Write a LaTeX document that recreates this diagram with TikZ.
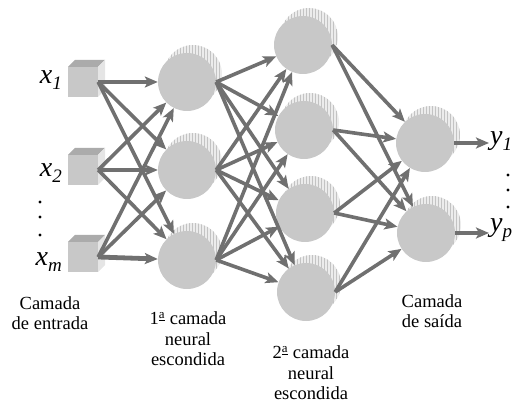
\documentclass[tikz,border=0pt]{standalone}
\usepackage{fontspec}
\setmainfont{LiberationSerif}[Extension=.ttf,UprightFont=*-Regular,ItalicFont=*-Italic,BoldFont=*-Bold,BoldItalicFont=*-BoldItalic]
\newfontfamily\tms{LiberationSerif}[Extension=.ttf,UprightFont=*-Regular,ItalicFont=*-Italic,BoldFont=*-Bold,BoldItalicFont=*-BoldItalic]
\usetikzlibrary{arrows.meta,patterns,calc}
\definecolor{face}{RGB}{200,200,200}
\definecolor{rib}{RGB}{236,236,236}
\definecolor{ribline}{RGB}{195,195,195}
\definecolor{arr}{RGB}{112,112,112}
\tikzset{
  neuron/.style={circle,minimum size=58pt,inner sep=0pt,fill=face},
  ribbon/.style={circle,minimum size=58pt,inner sep=0pt,fill=rib,postaction={pattern=vertical lines,pattern color=ribline}},
  cubeface/.style={minimum size=30pt,inner sep=0pt,fill=face},
  con/.style={draw=arr,line width=3.6pt,-{Stealth[length=13pt,width=11pt,inset=3pt]}},
  conthick/.style={con,line width=4.8pt},
  lbl/.style={font=\tms\fontsize{18.5}{20.5}\selectfont,align=center},
  var/.style={font=\tms\fontsize{28}{28}\selectfont\itshape,inner sep=0pt},
  dot/.style={circle,fill=black,inner sep=0pt,minimum size=3.2pt}
}
\newcommand{\subsc}[1]{\raisebox{-6pt}{\tms\fontsize{19}{19}\selectfont\itshape #1}}
\begin{document}
\begin{tikzpicture}[x=1pt,y=-1pt]
\useasboundingbox (0,0) rectangle (522,403);
% input cubes
\foreach \n/\y in {1/82,2/170,3/257}{
  \fill[black!33] (68,\y-15) -- (75,\y-22) -- (105,\y-22) -- (98,\y-15) -- cycle;
  \fill[black!10] (98,\y-15) -- (105,\y-22) -- (105,\y+8) -- (98,\y+15) -- cycle;
  \node[cubeface] (i\n) at (83,\y) {};
}
% ribbons and neurons
\foreach \name/\x/\y in {h1/187/82,h2/187/170,h3/187/260,g1/303/45,g2/304/130,g3/305/213,g4/306/292,o1/425/143,o2/426/233}{
  \node[ribbon] at (\x+6,\y-8) {};
  \node[neuron] (\name) at (\x,\y) {};
}
% labels
\node[var,anchor=east] (lx1) at (62,80) {x\subsc{1}};
\node[var,anchor=east] (lx2) at (62,173) {x\subsc{2}};
\node[var,anchor=east] (lxm) at (62,262) {x\subsc{m}};
\node[dot] (d1) at (40,202) {};
\node[dot] (d2) at (40,217) {};
\node[dot] (d3) at (40,235) {};
\coordinate (y1e) at (489,143);
\coordinate (ype) at (489,233);
\node[var,anchor=west] (ly1) at (490,141) {y\subsc{1}};
\node[var,anchor=west] (lyp) at (490,230) {y\subsc{p}};
\node[dot] (e1) at (508,175) {};
\node[dot] (e2) at (508,190) {};
\node[dot] (e3) at (508,207) {};
% connections input -> h
\foreach \a in {1,2,3}{
  \foreach \b in {1,2,3}{
    \ifnum\a=\b
      \draw[conthick] (i\a.east) -- (h\b);
    \else
      \draw[con] (i\a.east) -- (h\b);
    \fi
  }
}
\foreach \a in {1,2,3}{
  \foreach \b in {1,2,3,4}{
    \draw[con] (h\a.east) -- (g\b);
  }
}
\foreach \a in {1,2,3,4}{
  \foreach \b in {1,2}{
    \draw[con] (g\a.east) -- (o\b);
  }
}
\draw[conthick] (o1.east) -- (y1e);
\draw[con] (o2.east) -- (ype);
% captions
\node[lbl] (c1) at (50,313) {Camada\\de entrada};
\node[lbl] (c2) at (188,339) {1\textsuperscript{\underline{a}} camada\\neural\\escondida};
\node[lbl] (c3) at (311,373) {2\textsuperscript{\underline{a}} camada\\neural\\escondida};
\node[lbl] (c4) at (432,311) {Camada\\de saída};
\end{tikzpicture}
\end{document}
